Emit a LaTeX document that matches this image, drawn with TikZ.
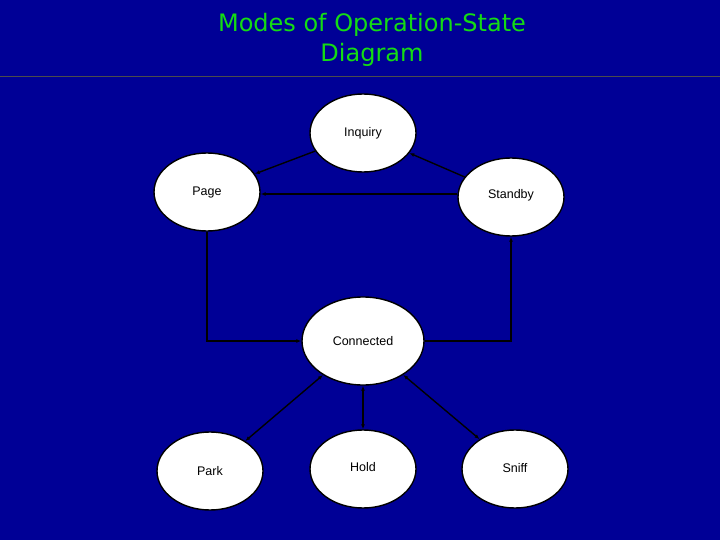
\documentclass[tikz,border=0pt]{standalone}
\usepackage{fontspec}
\setmainfont{Liberation Sans}
\newfontfamily\titlefont{DejaVu Sans}
\usetikzlibrary{shapes.geometric,arrows.meta}
\definecolor{bg}{RGB}{0,0,150}
\definecolor{ttl}{RGB}{20,220,20}
\begin{document}
\begin{tikzpicture}[x=1pt,y=-1pt,
  st/.style={ellipse,draw=black,line width=1.4pt,fill=white,minimum width=106pt,minimum height=78pt,inner sep=0pt,font=\fontsize{12.5}{14}\selectfont},
  ar/.style={draw=black,line width=1.4pt,-{Latex[length=5pt,width=4pt]}},
  br/.style={draw=black,line width=1.4pt,{Latex[length=5pt,width=4pt]}-{Latex[length=5pt,width=4pt]}}]
\fill[bg] (0,0) rectangle (720,540);
\useasboundingbox (0,0) rectangle (720,540);
\draw[black!70,line width=1pt] (0,77) -- (720,77);
\node[text=ttl,font=\titlefont\fontsize{24}{30}\selectfont,align=center] (title) at (372,40) {Modes of Operation-State\\Diagram};
\node[st] (inq) at (363,133) {Inquiry};
\node[st] (page) at (207,192) {Page};
\node[st] (stby) at (511,197) {\raisebox{6pt}{Standby}};
\node[st,minimum width=122pt,minimum height=88pt] (conn) at (363,341) {Connected};
\node[st] (park) at (210,471) {Park};
\node[st] (hold) at (363,469) {\raisebox{4pt}{Hold}};
\node[st] (sniff) at (515,469) {\raisebox{3pt}{Sniff}};
\draw[ar] (inq) -- (page);
\draw[ar] (stby) -- (inq);
\draw[ar] (stby.west |- 0,194) -- (page.east |- 0,194);
\draw[ar] (page.south) -- (207,341) -- (conn.west);
\draw[ar] (conn.east) -- (511,341) -- (stby.south);
\draw[br] (conn) -- (park);
\draw[br] (conn) -- (hold);
\draw[br] (conn) -- (sniff);
\end{tikzpicture}
\end{document}
